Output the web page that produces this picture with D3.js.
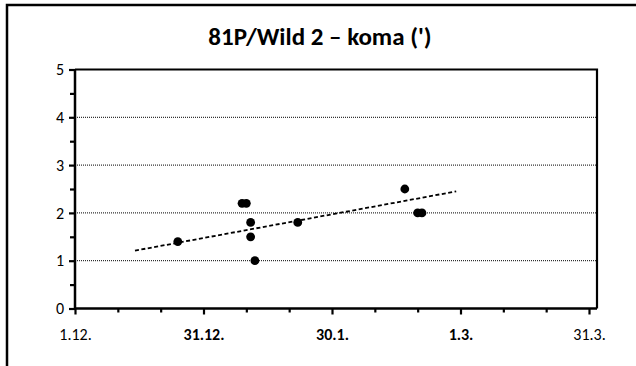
<!DOCTYPE html>
<html>
<head>
<meta charset="utf-8">
<script src="https://cdn.jsdelivr.net/npm/d3@7"></script>
<style>
  body { margin: 0; background: #fff; }
  svg { display: block; font-family: Carlito, Calibri, Lato, sans-serif; }
</style>
</head>
<body>
<div id="chart"></div>
<script>
// observation dates and coma sizes (arc minutes)
const obsDates = ["2009-12-25", "2010-01-09", "2010-01-10", "2010-01-11", "2010-01-11",
                  "2010-01-12", "2010-01-22", "2010-02-16", "2010-02-19", "2010-02-20"];
const comaSize = [1.4, 2.2, 2.2, 1.8, 1.5, 1.0, 1.8, 2.5, 2.0, 2.0];

// linear trend as drawn
const trendDates = ["2009-12-15", "2010-02-28"];
const trendValues = [1.21, 2.45];

const xTickDates = ["2009-12-01", "2009-12-31", "2010-01-30", "2010-03-01", "2010-03-31"];
const xTickLabels = ["1.12.", "31.12.", "30.1.", "1.3.", "31.3."];
const xTickBold = [false, true, true, true, false];
const yTicks = [0, 1, 2, 3, 4, 5];
const yGrid = [1, 2, 3, 4];

const titleText = "81P/Wild 2 – koma (')";

const width = 636, height = 366;
const plot = { left: 75, top: 69.5, right: 597, bottom: 308.5 };
const parse = d3.utcParse("%Y-%m-%d");
const font = 'Carlito, Calibri, Lato, sans-serif';

const svg = d3.select('#chart')
    .append('svg')
    .attr('width', width)
    .attr('height', height);

// outer chart border (runs off the right and bottom)
svg.append('rect')
    .attr('x', 7).attr('y', 5)
    .attr('width', 700).attr('height', 400)
    .attr('fill', 'none')
    .attr('stroke', '#000')
    .attr('stroke-width', 2.5);

svg.append('text')
    .attr('x', 320).attr('y', 45)
    .attr('text-anchor', 'middle')
    .attr('font-size', 25)
    .attr('font-weight', 'bold')
    .text(titleText);

const x = d3.scaleUtc()
    .domain([parse(xTickDates[0]), parse(xTickDates[xTickDates.length - 1])])
    .range([plot.left, 589]);

const y = d3.scaleLinear()
    .domain([0, 5])
    .range([plot.bottom, plot.top]);

// dotted grid
svg.append('g')
    .selectAll('line')
    .data(yGrid)
    .enter()
    .append('line')
    .attr('x1', plot.left).attr('x2', plot.right)
    .attr('y1', d => y(d)).attr('y2', d => y(d))
    .attr('stroke', '#000')
    .attr('stroke-width', 1)
    .attr('stroke-dasharray', '1,1');

// plot frame top and right
svg.append('path')
    .attr('d', `M${plot.left},${plot.top}H${plot.right}V${plot.bottom}`)
    .attr('fill', 'none')
    .attr('stroke', '#000')
    .attr('stroke-width', 2.2);

// x axis: major ticks with labels, minor ticks every 10 days
const majorDates = xTickDates.map(parse);
const minorDates = [];
majorDates.slice(0, -1).forEach(d => {
    minorDates.push(d3.utcDay.offset(d, 10), d3.utcDay.offset(d, 20));
});

const xAxis = svg.append('g')
    .attr('transform', `translate(0,${plot.bottom})`)
    .call(d3.axisBottom(x).tickValues(majorDates).tickSize(6).tickPadding(14)
        .tickFormat((d, i) => xTickLabels[i]));
xAxis.select('.domain').remove();
xAxis.selectAll('.tick line').attr('stroke-width', 2.2);
xAxis.selectAll('.tick text')
    .attr('font-size', 16)
    .attr('font-family', font)
    .attr('font-weight', (d, i) => xTickBold[i] ? 'bold' : 'normal')
    .attr('fill', '#000');

const xMinor = svg.append('g')
    .attr('transform', `translate(0,${plot.bottom})`)
    .call(d3.axisBottom(x).tickValues(minorDates).tickSize(4).tickFormat(''));
xMinor.select('.domain').remove();
xMinor.selectAll('.tick line').attr('stroke-width', 2.2);

// y axis
const yAxis = svg.append('g')
    .attr('transform', `translate(${plot.left},0)`)
    .call(d3.axisLeft(y).tickValues(yTicks).tickSize(6).tickPadding(5).tickFormat(d3.format('d')));
yAxis.select('.domain').remove();
yAxis.selectAll('.tick line').attr('stroke-width', 2.2);
yAxis.selectAll('.tick text')
    .attr('font-size', 16)
    .attr('font-family', font)
    .attr('fill', '#000');

const yMinor = svg.append('g')
    .attr('transform', `translate(${plot.left},0)`)
    .call(d3.axisLeft(y).tickValues(d3.range(0.5, 5, 1)).tickSize(5).tickFormat(''));
yMinor.select('.domain').remove();
yMinor.selectAll('.tick line').attr('stroke-width', 2.2);

// axis lines
svg.append('path')
    .attr('d', `M${plot.left},${plot.top}V${plot.bottom}H${plot.right}`)
    .attr('fill', 'none')
    .attr('stroke', '#000')
    .attr('stroke-width', 2.5);

// trend line
const trend = trendDates.map((d, i) => [parse(d), trendValues[i]]);
svg.append('path')
    .datum(trend)
    .attr('d', d3.line().x(d => x(d[0])).y(d => y(d[1])))
    .attr('fill', 'none')
    .attr('stroke', '#000')
    .attr('stroke-width', 1.8)
    .attr('stroke-dasharray', '4,2.5');

// observations
const points = obsDates.map((d, i) => [parse(d), comaSize[i]]);
svg.append('g')
    .selectAll('circle')
    .data(points)
    .enter()
    .append('circle')
    .attr('cx', d => x(d[0]))
    .attr('cy', d => y(d[1]))
    .attr('r', 4.4)
    .attr('fill', '#000');
</script>
</body>
</html>
